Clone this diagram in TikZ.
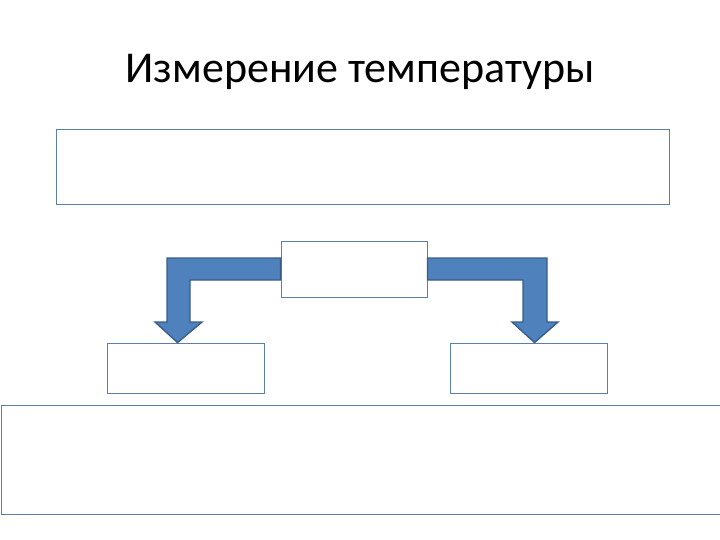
\documentclass[tikz,border=0pt]{standalone}
\usepackage{fontspec}
\setmainfont{Carlito}
\usetikzlibrary{calc}
\definecolor{boxline}{HTML}{5A7FA8}
\definecolor{arrfill}{HTML}{4F81BD}
\definecolor{arrline}{HTML}{385D8A}
\begin{document}
\begin{tikzpicture}[x=1pt,y=-1pt,
  box/.style={draw=boxline,line width=0.9pt,rectangle,inner sep=0pt,fill=white},
  bendarrow/.style={fill=arrfill,draw=arrline,line width=1.4pt,line join=miter}]
\useasboundingbox (0,0) rectangle (720,540);
\clip (0,0) rectangle (720,540);
\node[font=\fontsize{44}{52}\selectfont,anchor=base] (title) at (360,83) {Измерение температуры};
\node[box,minimum width=613pt,minimum height=75pt] (top) at (362.5,166.5) {};
\node[box,minimum width=146pt,minimum height=56pt] (mid) at (354,269) {};
\node[box,minimum width=157pt,minimum height=50pt] (left) at (185.5,368) {};
\node[box,minimum width=157pt,minimum height=50pt] (right) at (528.5,368) {};
\node[box,minimum width=724pt,minimum height=109pt] (bottom) at (363,459.5) {};
% left bent arrow
\coordinate (lt) at ($(left.north west)+(71,0)$);
\draw[bendarrow] ($(mid.west)+(0,-11)$) -- (167,258) -- (167,322)
  -- (155,322) -- (lt) -- (202,322) -- (190,322)
  -- (190,280) -- ($(mid.west)+(0,11)$) -- cycle;
% right bent arrow
\coordinate (rt) at ($(right.north west)+(85,0)$);
\draw[bendarrow] ($(mid.east)+(0,-11)$) -- (547,258) -- (547,322)
  -- (558,322) -- (rt) -- (512,322) -- (523,322)
  -- (523,280) -- ($(mid.east)+(0,11)$) -- cycle;
\end{tikzpicture}
\end{document}
